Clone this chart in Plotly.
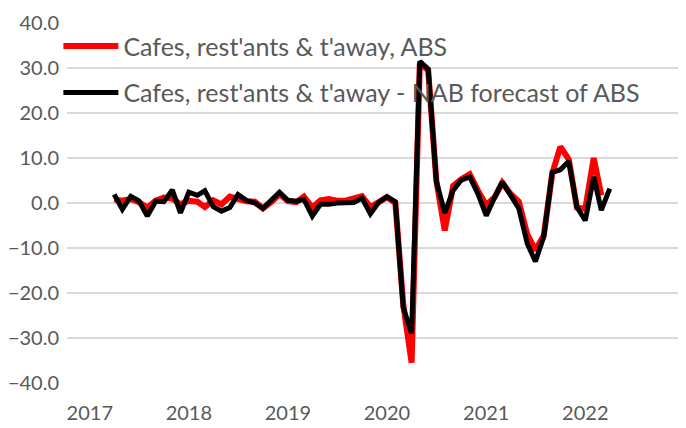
import pandas as pd
import plotly.graph_objects as go

# Monthly dates: Apr 2017 .. Apr 2022
months = pd.date_range("2017-04-01", periods=61, freq="MS")

abs_name = "Cafes, rest'ants & t'away, ABS"
nab_name = "Cafes, rest'ants & t'away - NAB forecast of ABS"

abs_values = [
    0.8, 0.5, 0.9, 0.2, -1.0, 0.5, 1.2, 1.0, -0.3, 0.5, 0.3, -0.9,
    0.6, -0.3, 1.4, 0.8, 0.4, 0.3, -1.2, 0.2, 2.0, 0.4, 0.2, 1.4,
    -1.0, 0.6, 0.9, 0.5, 0.5, 1.0, 1.5, -0.9, 0.3, 1.3, 0.0, -22.5,
    -35.5, 31.0, 29.5, 5.0, -6.1, 3.8, 5.3, 6.4, 2.8, -0.5, 1.3, 4.5,
    2.0, 0.3, -7.0, -10.5, -7.2, 6.5, 12.5, 9.7, -1.0, -1.3, 10.0, 1.7,
]

nab_values = [
    1.9, -1.4, 1.5, 0.5, -2.9, 0.4, 0.3, 2.9, -2.2, 2.4, 1.7, 2.7,
    -0.8, -1.8, -1.0, 1.9, 0.6, 0.0, -1.2, 0.5, 2.4, 0.6, 0.4, 0.8,
    -2.9, -0.3, -0.3, 0.0, 0.0, 0.1, 1.1, -2.4, 0.1, 1.4, 0.3, -23.2,
    -29.0, 31.5, 29.8, 4.8, -2.2, 2.8, 5.1, 5.8, 2.1, -2.8, 1.3, 4.7,
    1.7, -1.2, -9.0, -13.0, -7.5, 6.8, 7.4, 9.3, -0.9, -3.9, 5.8, -1.6,
    3.2,
]

year_ticks = ["2017-01-01", "2018-01-01", "2019-01-01", "2020-01-01", "2021-01-01", "2022-01-01"]
year_labels = ["2017", "2018", "2019", "2020", "2021", "2022"]
y_ticks = [-40, -30, -20, -10, 0, 10, 20, 30, 40]

text_grey = "#595959"
font_family = "Lato"

fig = go.Figure()
fig.add_trace(go.Scatter(
    x=months[:len(abs_values)], y=abs_values, mode="lines", name=abs_name,
    line=dict(color="#ff0000", width=6), legendgroup="a",
))
fig.add_trace(go.Scatter(
    x=months[:len(nab_values)], y=nab_values, mode="lines", name=nab_name,
    line=dict(color="#000000", width=5), legendgroup="b",
))

# The page's default 8px body margin offsets the figure, so it is sized to fit.
fig.update_layout(
    width=678, height=420,
    margin=dict(l=59, r=3, t=15, b=45, autoexpand=False),
    paper_bgcolor="white", plot_bgcolor="white",
    font=dict(family=font_family, size=20, color=text_grey),
    showlegend=True,
    legend=dict(
        x=-0.014, y=0.999, xanchor="left", yanchor="top",
        bgcolor="rgba(0,0,0,0)", traceorder="grouped", tracegroupgap=11,
        itemwidth=55,
        font=dict(family=font_family, size=25, color=text_grey),
    ),
    xaxis=dict(
        type="date", range=["2016-10-09", "2022-12-27"],
        tickvals=year_ticks, ticktext=year_labels,
        showgrid=False, zeroline=False, showline=False, ticks="",
        ticklabelstandoff=16, automargin=False,
    ),
    yaxis=dict(
        range=[-40, 40], tickvals=y_ticks, tickformat=".1f",
        showgrid=True, gridcolor="#d9d9d9", gridwidth=1.5,
        zeroline=False, showline=False, ticks="", ticklabelstandoff=7,
        automargin=False,
    ),
)

fig.write_html("out.html")
